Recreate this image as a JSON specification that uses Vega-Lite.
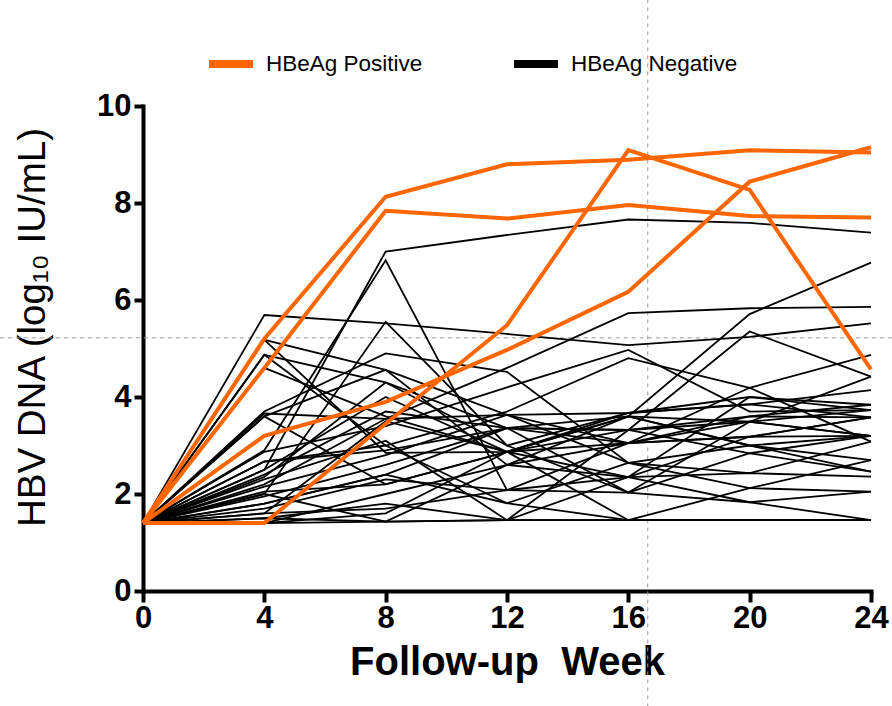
{
  "$schema": "https://vega.github.io/schema/vega-lite/v6.json",
  "width": 728,
  "height": 485,
  "autosize": {"type": "none"},
  "padding": {"left": 143, "top": 106, "right": 21, "bottom": 115},
  "background": "white",
  "config": {
    "view": {"stroke": null},
    "font": "Liberation Sans"
  },
  "datasets": {
    "neg": [
      {"id":1,"g":"HBeAg Negative","w":0,"v":1.4},{"id":1,"g":"HBeAg Negative","w":4,"v":2.5},{"id":1,"g":"HBeAg Negative","w":8,"v":7.0},{"id":1,"g":"HBeAg Negative","w":12,"v":7.34},{"id":1,"g":"HBeAg Negative","w":16,"v":7.66},{"id":1,"g":"HBeAg Negative","w":20,"v":7.59},{"id":1,"g":"HBeAg Negative","w":24,"v":7.39},
      {"id":2,"g":"HBeAg Negative","w":0,"v":1.4},{"id":2,"g":"HBeAg Negative","w":4,"v":2.9},{"id":2,"g":"HBeAg Negative","w":8,"v":6.82},{"id":2,"g":"HBeAg Negative","w":12,"v":2.08},{"id":2,"g":"HBeAg Negative","w":16,"v":2.35},{"id":2,"g":"HBeAg Negative","w":20,"v":2.43},{"id":2,"g":"HBeAg Negative","w":24,"v":2.36},
      {"id":3,"g":"HBeAg Negative","w":0,"v":1.4},{"id":3,"g":"HBeAg Negative","w":4,"v":5.69},{"id":3,"g":"HBeAg Negative","w":8,"v":5.52},{"id":3,"g":"HBeAg Negative","w":12,"v":5.3},{"id":3,"g":"HBeAg Negative","w":16,"v":5.07},{"id":3,"g":"HBeAg Negative","w":20,"v":5.24},{"id":3,"g":"HBeAg Negative","w":24,"v":5.52},
      {"id":4,"g":"HBeAg Negative","w":0,"v":1.4},{"id":4,"g":"HBeAg Negative","w":4,"v":2.0},{"id":4,"g":"HBeAg Negative","w":8,"v":5.55},{"id":4,"g":"HBeAg Negative","w":12,"v":3.0},{"id":4,"g":"HBeAg Negative","w":16,"v":3.67},{"id":4,"g":"HBeAg Negative","w":20,"v":4.0},{"id":4,"g":"HBeAg Negative","w":24,"v":3.84},
      {"id":5,"g":"HBeAg Negative","w":0,"v":1.4},{"id":5,"g":"HBeAg Negative","w":4,"v":5.18},{"id":5,"g":"HBeAg Negative","w":8,"v":2.85},{"id":5,"g":"HBeAg Negative","w":12,"v":2.87},{"id":5,"g":"HBeAg Negative","w":16,"v":3.32},{"id":5,"g":"HBeAg Negative","w":20,"v":3.49},{"id":5,"g":"HBeAg Negative","w":24,"v":3.2},
      {"id":6,"g":"HBeAg Negative","w":0,"v":1.4},{"id":6,"g":"HBeAg Negative","w":4,"v":4.87},{"id":6,"g":"HBeAg Negative","w":8,"v":4.3},{"id":6,"g":"HBeAg Negative","w":12,"v":3.36},{"id":6,"g":"HBeAg Negative","w":16,"v":3.6},{"id":6,"g":"HBeAg Negative","w":20,"v":3.0},{"id":6,"g":"HBeAg Negative","w":24,"v":2.7},
      {"id":7,"g":"HBeAg Negative","w":0,"v":1.4},{"id":7,"g":"HBeAg Negative","w":4,"v":4.6},{"id":7,"g":"HBeAg Negative","w":8,"v":3.6},{"id":7,"g":"HBeAg Negative","w":12,"v":2.87},{"id":7,"g":"HBeAg Negative","w":16,"v":1.46},{"id":7,"g":"HBeAg Negative","w":20,"v":1.46},{"id":7,"g":"HBeAg Negative","w":24,"v":1.46},
      {"id":8,"g":"HBeAg Negative","w":0,"v":1.4},{"id":8,"g":"HBeAg Negative","w":4,"v":3.7},{"id":8,"g":"HBeAg Negative","w":8,"v":4.9},{"id":8,"g":"HBeAg Negative","w":12,"v":4.52},{"id":8,"g":"HBeAg Negative","w":16,"v":2.64},{"id":8,"g":"HBeAg Negative","w":20,"v":2.12},{"id":8,"g":"HBeAg Negative","w":24,"v":2.05},
      {"id":9,"g":"HBeAg Negative","w":0,"v":1.4},{"id":9,"g":"HBeAg Negative","w":4,"v":3.66},{"id":9,"g":"HBeAg Negative","w":8,"v":3.55},{"id":9,"g":"HBeAg Negative","w":12,"v":4.6},{"id":9,"g":"HBeAg Negative","w":16,"v":5.73},{"id":9,"g":"HBeAg Negative","w":20,"v":5.83},{"id":9,"g":"HBeAg Negative","w":24,"v":5.86},
      {"id":10,"g":"HBeAg Negative","w":0,"v":1.4},{"id":10,"g":"HBeAg Negative","w":4,"v":3.6},{"id":10,"g":"HBeAg Negative","w":8,"v":4.56},{"id":10,"g":"HBeAg Negative","w":12,"v":2.6},{"id":10,"g":"HBeAg Negative","w":16,"v":3.05},{"id":10,"g":"HBeAg Negative","w":20,"v":3.6},{"id":10,"g":"HBeAg Negative","w":24,"v":3.58},
      {"id":11,"g":"HBeAg Negative","w":0,"v":1.4},{"id":11,"g":"HBeAg Negative","w":4,"v":2.87},{"id":11,"g":"HBeAg Negative","w":8,"v":3.4},{"id":11,"g":"HBeAg Negative","w":12,"v":4.2},{"id":11,"g":"HBeAg Negative","w":16,"v":4.97},{"id":11,"g":"HBeAg Negative","w":20,"v":3.7},{"id":11,"g":"HBeAg Negative","w":24,"v":3.73},
      {"id":12,"g":"HBeAg Negative","w":0,"v":1.4},{"id":12,"g":"HBeAg Negative","w":4,"v":2.67},{"id":12,"g":"HBeAg Negative","w":8,"v":3.0},{"id":12,"g":"HBeAg Negative","w":12,"v":3.7},{"id":12,"g":"HBeAg Negative","w":16,"v":4.8},{"id":12,"g":"HBeAg Negative","w":20,"v":4.19},{"id":12,"g":"HBeAg Negative","w":24,"v":3.08},
      {"id":13,"g":"HBeAg Negative","w":0,"v":1.4},{"id":13,"g":"HBeAg Negative","w":4,"v":2.5},{"id":13,"g":"HBeAg Negative","w":8,"v":4.0},{"id":13,"g":"HBeAg Negative","w":12,"v":2.87},{"id":13,"g":"HBeAg Negative","w":16,"v":3.6},{"id":13,"g":"HBeAg Negative","w":20,"v":5.71},{"id":13,"g":"HBeAg Negative","w":24,"v":6.77},
      {"id":14,"g":"HBeAg Negative","w":0,"v":1.4},{"id":14,"g":"HBeAg Negative","w":4,"v":2.4},{"id":14,"g":"HBeAg Negative","w":8,"v":3.7},{"id":14,"g":"HBeAg Negative","w":12,"v":3.36},{"id":14,"g":"HBeAg Negative","w":16,"v":3.05},{"id":14,"g":"HBeAg Negative","w":20,"v":4.19},{"id":14,"g":"HBeAg Negative","w":24,"v":4.87},
      {"id":15,"g":"HBeAg Negative","w":0,"v":1.4},{"id":15,"g":"HBeAg Negative","w":4,"v":2.3},{"id":15,"g":"HBeAg Negative","w":8,"v":3.1},{"id":15,"g":"HBeAg Negative","w":12,"v":1.46},{"id":15,"g":"HBeAg Negative","w":16,"v":3.32},{"id":15,"g":"HBeAg Negative","w":20,"v":5.35},{"id":15,"g":"HBeAg Negative","w":24,"v":4.42},
      {"id":16,"g":"HBeAg Negative","w":0,"v":1.4},{"id":16,"g":"HBeAg Negative","w":4,"v":2.15},{"id":16,"g":"HBeAg Negative","w":8,"v":2.8},{"id":16,"g":"HBeAg Negative","w":12,"v":3.63},{"id":16,"g":"HBeAg Negative","w":16,"v":3.67},{"id":16,"g":"HBeAg Negative","w":20,"v":3.85},{"id":16,"g":"HBeAg Negative","w":24,"v":4.14},
      {"id":17,"g":"HBeAg Negative","w":0,"v":1.4},{"id":17,"g":"HBeAg Negative","w":4,"v":2.05},{"id":17,"g":"HBeAg Negative","w":8,"v":2.2},{"id":17,"g":"HBeAg Negative","w":12,"v":2.87},{"id":17,"g":"HBeAg Negative","w":16,"v":2.35},{"id":17,"g":"HBeAg Negative","w":20,"v":3.18},{"id":17,"g":"HBeAg Negative","w":24,"v":3.58},
      {"id":18,"g":"HBeAg Negative","w":0,"v":1.4},{"id":18,"g":"HBeAg Negative","w":4,"v":2.0},{"id":18,"g":"HBeAg Negative","w":8,"v":1.43},{"id":18,"g":"HBeAg Negative","w":12,"v":2.6},{"id":18,"g":"HBeAg Negative","w":16,"v":3.6},{"id":18,"g":"HBeAg Negative","w":20,"v":3.49},{"id":18,"g":"HBeAg Negative","w":24,"v":3.2},
      {"id":19,"g":"HBeAg Negative","w":0,"v":1.4},{"id":19,"g":"HBeAg Negative","w":4,"v":1.95},{"id":19,"g":"HBeAg Negative","w":8,"v":2.6},{"id":19,"g":"HBeAg Negative","w":12,"v":3.36},{"id":19,"g":"HBeAg Negative","w":16,"v":2.03},{"id":19,"g":"HBeAg Negative","w":20,"v":1.83},{"id":19,"g":"HBeAg Negative","w":24,"v":1.46},
      {"id":20,"g":"HBeAg Negative","w":0,"v":1.4},{"id":20,"g":"HBeAg Negative","w":4,"v":1.8},{"id":20,"g":"HBeAg Negative","w":8,"v":2.4},{"id":20,"g":"HBeAg Negative","w":12,"v":1.81},{"id":20,"g":"HBeAg Negative","w":16,"v":2.64},{"id":20,"g":"HBeAg Negative","w":20,"v":3.0},{"id":20,"g":"HBeAg Negative","w":24,"v":3.2},
      {"id":21,"g":"HBeAg Negative","w":0,"v":1.4},{"id":21,"g":"HBeAg Negative","w":4,"v":1.7},{"id":21,"g":"HBeAg Negative","w":8,"v":2.3},{"id":21,"g":"HBeAg Negative","w":12,"v":2.08},{"id":21,"g":"HBeAg Negative","w":16,"v":2.03},{"id":21,"g":"HBeAg Negative","w":20,"v":2.84},{"id":21,"g":"HBeAg Negative","w":24,"v":2.46},
      {"id":22,"g":"HBeAg Negative","w":0,"v":1.4},{"id":22,"g":"HBeAg Negative","w":4,"v":1.6},{"id":22,"g":"HBeAg Negative","w":8,"v":3.5},{"id":22,"g":"HBeAg Negative","w":12,"v":2.87},{"id":22,"g":"HBeAg Negative","w":16,"v":3.05},{"id":22,"g":"HBeAg Negative","w":20,"v":3.49},{"id":22,"g":"HBeAg Negative","w":24,"v":3.73},
      {"id":23,"g":"HBeAg Negative","w":0,"v":1.4},{"id":23,"g":"HBeAg Negative","w":4,"v":1.5},{"id":23,"g":"HBeAg Negative","w":8,"v":1.8},{"id":23,"g":"HBeAg Negative","w":12,"v":1.46},{"id":23,"g":"HBeAg Negative","w":16,"v":1.46},{"id":23,"g":"HBeAg Negative","w":20,"v":2.12},{"id":23,"g":"HBeAg Negative","w":24,"v":2.7},
      {"id":24,"g":"HBeAg Negative","w":0,"v":1.4},{"id":24,"g":"HBeAg Negative","w":4,"v":1.4},{"id":24,"g":"HBeAg Negative","w":8,"v":1.6},{"id":24,"g":"HBeAg Negative","w":12,"v":2.87},{"id":24,"g":"HBeAg Negative","w":16,"v":3.67},{"id":24,"g":"HBeAg Negative","w":20,"v":3.85},{"id":24,"g":"HBeAg Negative","w":24,"v":3.58},
      {"id":25,"g":"HBeAg Negative","w":0,"v":1.4},{"id":25,"g":"HBeAg Negative","w":4,"v":1.4},{"id":25,"g":"HBeAg Negative","w":8,"v":1.43},{"id":25,"g":"HBeAg Negative","w":12,"v":1.46},{"id":25,"g":"HBeAg Negative","w":16,"v":1.46},{"id":25,"g":"HBeAg Negative","w":20,"v":1.46},{"id":25,"g":"HBeAg Negative","w":24,"v":1.46},
      {"id":26,"g":"HBeAg Negative","w":0,"v":1.4},{"id":26,"g":"HBeAg Negative","w":4,"v":1.4},{"id":26,"g":"HBeAg Negative","w":8,"v":2.0},{"id":26,"g":"HBeAg Negative","w":12,"v":2.6},{"id":26,"g":"HBeAg Negative","w":16,"v":2.35},{"id":26,"g":"HBeAg Negative","w":20,"v":1.83},{"id":26,"g":"HBeAg Negative","w":24,"v":2.05},
      {"id":27,"g":"HBeAg Negative","w":0,"v":1.4},{"id":27,"g":"HBeAg Negative","w":4,"v":2.67},{"id":27,"g":"HBeAg Negative","w":8,"v":2.9},{"id":27,"g":"HBeAg Negative","w":12,"v":3.36},{"id":27,"g":"HBeAg Negative","w":16,"v":3.32},{"id":27,"g":"HBeAg Negative","w":20,"v":3.6},{"id":27,"g":"HBeAg Negative","w":24,"v":3.84},
      {"id":28,"g":"HBeAg Negative","w":0,"v":1.4},{"id":28,"g":"HBeAg Negative","w":4,"v":2.2},{"id":28,"g":"HBeAg Negative","w":8,"v":3.55},{"id":28,"g":"HBeAg Negative","w":12,"v":3.63},{"id":28,"g":"HBeAg Negative","w":16,"v":2.64},{"id":28,"g":"HBeAg Negative","w":20,"v":2.43},{"id":28,"g":"HBeAg Negative","w":24,"v":3.08},
      {"id":29,"g":"HBeAg Negative","w":0,"v":1.4},{"id":29,"g":"HBeAg Negative","w":4,"v":4.87},{"id":29,"g":"HBeAg Negative","w":8,"v":3.0},{"id":29,"g":"HBeAg Negative","w":12,"v":1.81},{"id":29,"g":"HBeAg Negative","w":16,"v":1.46},{"id":29,"g":"HBeAg Negative","w":20,"v":1.46},{"id":29,"g":"HBeAg Negative","w":24,"v":1.46},
      {"id":30,"g":"HBeAg Negative","w":0,"v":1.4},{"id":30,"g":"HBeAg Negative","w":4,"v":1.6},{"id":30,"g":"HBeAg Negative","w":8,"v":1.7},{"id":30,"g":"HBeAg Negative","w":12,"v":2.08},{"id":30,"g":"HBeAg Negative","w":16,"v":3.05},{"id":30,"g":"HBeAg Negative","w":20,"v":3.18},{"id":30,"g":"HBeAg Negative","w":24,"v":3.2},
      {"id":31,"g":"HBeAg Negative","w":0,"v":1.4},{"id":31,"g":"HBeAg Negative","w":4,"v":3.6},{"id":31,"g":"HBeAg Negative","w":8,"v":2.2},{"id":31,"g":"HBeAg Negative","w":12,"v":2.87},{"id":31,"g":"HBeAg Negative","w":16,"v":3.6},{"id":31,"g":"HBeAg Negative","w":20,"v":3.0},{"id":31,"g":"HBeAg Negative","w":24,"v":2.46},
      {"id":32,"g":"HBeAg Negative","w":0,"v":1.4},{"id":32,"g":"HBeAg Negative","w":4,"v":2.35},{"id":32,"g":"HBeAg Negative","w":8,"v":4.3},{"id":32,"g":"HBeAg Negative","w":12,"v":3.0},{"id":32,"g":"HBeAg Negative","w":16,"v":2.03},{"id":32,"g":"HBeAg Negative","w":20,"v":3.49},{"id":32,"g":"HBeAg Negative","w":24,"v":4.42},
      {"id":33,"g":"HBeAg Negative","w":0,"v":1.4},{"id":33,"g":"HBeAg Negative","w":4,"v":1.5},{"id":33,"g":"HBeAg Negative","w":8,"v":1.43},{"id":33,"g":"HBeAg Negative","w":12,"v":1.46},{"id":33,"g":"HBeAg Negative","w":16,"v":2.35},{"id":33,"g":"HBeAg Negative","w":20,"v":4.0},{"id":33,"g":"HBeAg Negative","w":24,"v":3.73},
      {"id":34,"g":"HBeAg Negative","w":0,"v":1.4},{"id":34,"g":"HBeAg Negative","w":4,"v":1.8},{"id":34,"g":"HBeAg Negative","w":8,"v":2.4},{"id":34,"g":"HBeAg Negative","w":12,"v":3.36},{"id":34,"g":"HBeAg Negative","w":16,"v":3.32},{"id":34,"g":"HBeAg Negative","w":20,"v":2.84},{"id":34,"g":"HBeAg Negative","w":24,"v":3.2},
      {"id":35,"g":"HBeAg Negative","w":0,"v":1.4},{"id":35,"g":"HBeAg Negative","w":4,"v":5.18},{"id":35,"g":"HBeAg Negative","w":8,"v":4.56},{"id":35,"g":"HBeAg Negative","w":12,"v":3.63},{"id":35,"g":"HBeAg Negative","w":16,"v":3.05},{"id":35,"g":"HBeAg Negative","w":20,"v":3.18},{"id":35,"g":"HBeAg Negative","w":24,"v":3.58}
    ],
    "pos": [
      {"id":101,"g":"HBeAg Positive","w":0,"v":1.4},{"id":101,"g":"HBeAg Positive","w":4,"v":5.2},{"id":101,"g":"HBeAg Positive","w":8,"v":8.13},{"id":101,"g":"HBeAg Positive","w":12,"v":8.8},{"id":101,"g":"HBeAg Positive","w":16,"v":8.89},{"id":101,"g":"HBeAg Positive","w":20,"v":9.09},{"id":101,"g":"HBeAg Positive","w":24,"v":9.04},
      {"id":102,"g":"HBeAg Positive","w":0,"v":1.4},{"id":102,"g":"HBeAg Positive","w":4,"v":4.6},{"id":102,"g":"HBeAg Positive","w":8,"v":7.84},{"id":102,"g":"HBeAg Positive","w":12,"v":7.68},{"id":102,"g":"HBeAg Positive","w":16,"v":7.96},{"id":102,"g":"HBeAg Positive","w":20,"v":7.73},{"id":102,"g":"HBeAg Positive","w":24,"v":7.7},
      {"id":103,"g":"HBeAg Positive","w":0,"v":1.4},{"id":103,"g":"HBeAg Positive","w":4,"v":1.4},{"id":103,"g":"HBeAg Positive","w":8,"v":3.45},{"id":103,"g":"HBeAg Positive","w":12,"v":5.48},{"id":103,"g":"HBeAg Positive","w":16,"v":9.09},{"id":103,"g":"HBeAg Positive","w":20,"v":8.27},{"id":103,"g":"HBeAg Positive","w":24,"v":4.57},
      {"id":104,"g":"HBeAg Positive","w":0,"v":1.4},{"id":104,"g":"HBeAg Positive","w":4,"v":3.2},{"id":104,"g":"HBeAg Positive","w":8,"v":3.9},{"id":104,"g":"HBeAg Positive","w":12,"v":4.97},{"id":104,"g":"HBeAg Positive","w":16,"v":6.17},{"id":104,"g":"HBeAg Positive","w":20,"v":8.44},{"id":104,"g":"HBeAg Positive","w":24,"v":9.15}
    ],
    "one": [{"k": 1}]
  },
  "layer": [
    {
      "data": {"name": "one"},
      "mark": {"type": "rule", "color": "#9a9a9a", "strokeWidth": 1, "strokeDash": [4, 4]},
      "encoding": {"x": {"datum": -4.72, "type": "quantitative"}, "x2": {"datum": 24.7}, "y": {"datum": 5.22, "type": "quantitative"}}
    },
    {
      "data": {"name": "one"},
      "mark": {"type": "rule", "color": "#9a9a9a", "strokeWidth": 1, "strokeDash": [4, 4]},
      "encoding": {"x": {"datum": 16.64, "type": "quantitative"}, "y": {"datum": -2.4, "type": "quantitative"}, "y2": {"datum": 12.2}}
    },
    {
      "data": {"name": "neg"},
      "mark": {"type": "line", "strokeWidth": 1.8},
      "encoding": {
        "x": {"field": "w", "type": "quantitative"},
        "y": {"field": "v", "type": "quantitative"},
        "detail": {"field": "id"},
        "color": {"field": "g", "type": "nominal"}
      }
    },
    {
      "data": {"name": "pos"},
      "mark": {"type": "line", "strokeWidth": 4},
      "encoding": {
        "x": {"field": "w", "type": "quantitative"},
        "y": {"field": "v", "type": "quantitative"},
        "detail": {"field": "id"},
        "color": {"field": "g", "type": "nominal"}
      }
    }
  ],
  "resolve": {"scale": {"color": "shared"}},
  "encoding": {
    "x": {
      "type": "quantitative",
      "scale": {"domain": [0, 24], "nice": false, "zero": false},
      "axis": {
        "title": "Follow-up\u00a0 Week",
        "values": [0, 4, 8, 12, 16, 20, 24],
        "grid": false,
        "domainColor": "black", "domainWidth": 4, "domainCap": "square",
        "tickColor": "black", "tickWidth": 4, "tickSize": 11,
        "labelFont": "Liberation Sans", "labelFontSize": 31, "labelFontWeight": "bold", "labelColor": "black", "labelPadding": 1,
        "labelFlush": false,
        "titleFont": "Liberation Sans", "titleFontSize": 40, "titleFontWeight": "bold", "titleColor": "black", "titlePadding": 9
      }
    },
    "y": {
      "type": "quantitative",
      "scale": {"domain": [0, 10], "nice": false, "zero": false},
      "axis": {
        "title": "HBV DNA (log\u2081\u2080 IU/mL)",
        "values": [0, 2, 4, 6, 8, 10],
        "grid": false,
        "domainColor": "black", "domainWidth": 4, "domainCap": "square",
        "tickColor": "black", "tickWidth": 4, "tickSize": 9,
        "labelFont": "Liberation Sans", "labelFontSize": 31, "labelFontWeight": "bold", "labelColor": "black", "labelPadding": 3,
        "labelFlush": false,
        "titleFont": "Liberation Sans", "titleFontSize": 38.5, "titleFontWeight": "normal", "titleColor": "black", "titlePadding": 44,
        "titleY": 221
      }
    },
    "color": {
      "type": "nominal",
      "scale": {"domain": ["HBeAg Positive", "HBeAg Negative"], "range": ["#ff6600", "#000000"]},
      "legend": {
        "title": null,
        "orient": "none",
        "direction": "horizontal",
        "legendX": 62,
        "legendY": -68,
        "symbolType": "stroke",
        "symbolSize": 1936,
        "symbolStrokeWidth": 8,
        "labelFont": "Liberation Sans",
        "labelFontSize": 22.5,
        "labelColor": "black",
        "labelOffset": 9,
        "labelLimit": 400,
        "columnPadding": 75
      }
    }
  }
}
